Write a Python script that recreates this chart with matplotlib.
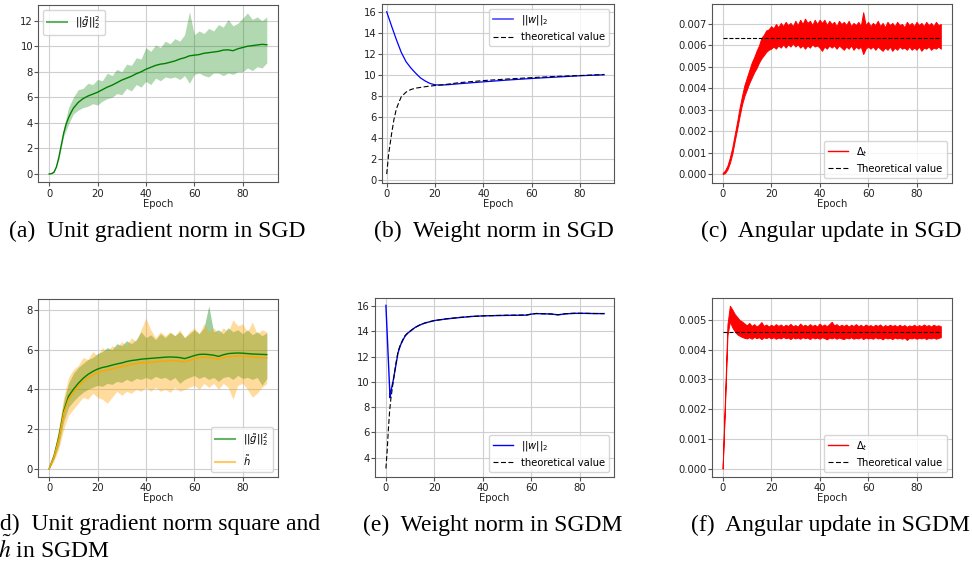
import matplotlib
matplotlib.use('Agg')
import matplotlib.pyplot as plt
from matplotlib.lines import Line2D

W, H = 972, 563

# ---------------- data ----------------
ep2 = list(range(0, 92, 2))          # epochs 0..90 step 2
ep1 = list(range(0, 91))             # epochs 0..90 step 1
ep_fine = [0, 1, 2, 3, 4, 5, 6, 7, 8, 9, 10] + list(range(12, 92, 2))

# (a) unit gradient norm in SGD
a_mean = [0.0, 0.03, 0.15, 0.55, 1.3, 2.25, 3.2, 3.9, 4.4, 4.8, 5.15,
          5.6, 5.9, 6.1, 6.25, 6.4, 6.6, 6.8, 6.95, 7.15, 7.35,
          7.5, 7.65, 7.85, 8.0, 8.2, 8.35, 8.5, 8.6, 8.65, 8.75, 8.85, 9.0, 9.1, 9.25, 9.3, 9.35,
          9.45, 9.5, 9.55, 9.6, 9.7, 9.72, 9.65, 9.8, 9.9, 10.0, 10.05, 10.1, 10.15, 10.12]
a_hi = [0.02, 0.2, 1.45, 3.6, 5.2, 6.0, 6.6, 6.7, 7.1, 7.0, 7.4, 7.3, 7.9, 7.7, 8.2, 8.0,
        8.6, 8.5, 9.1, 9.0, 9.9, 9.6, 10.1, 9.9, 10.4, 10.2, 10.6, 10.4, 10.9, 12.7, 10.9, 11.2,
        11.0, 11.4, 11.2, 11.7, 11.5, 12.1, 11.6, 11.8, 12.2, 12.6, 12.1, 12.3, 12.0, 12.3]
a_lo = [0.0, 0.1, 1.15, 2.95, 3.9, 4.7, 5.0, 5.2, 5.3, 5.5, 5.4, 5.7, 5.9, 6.0, 6.3, 6.2,
        6.7, 6.5, 7.0, 6.8, 7.25, 7.0, 7.5, 7.3, 7.6, 7.5, 7.6, 7.4, 7.7, 7.1, 7.8, 7.9,
        7.7, 7.6, 7.9, 7.9, 7.7, 7.9, 7.8, 8.0, 8.0, 8.3, 8.1, 8.4, 8.3, 8.7]

# (b) weight norm in SGD
b_ep = [0, 2, 4, 6, 8, 10, 12, 14, 16, 18, 20, 22, 25, 30, 40, 50, 60, 70, 80, 90]
b_w = [16.05, 14.7, 13.4, 12.2, 11.3, 10.7, 10.2, 9.75, 9.45, 9.22, 9.1, 9.07, 9.1, 9.2, 9.38,
       9.55, 9.7, 9.83, 9.96, 10.05]
b_th_ep = [0, 0.8, 2, 3, 4, 5, 6, 8, 10, 12, 16, 20, 25, 30, 40, 50, 60, 70, 80, 90]
b_th = [0.6, 2.5, 4.4, 5.8, 6.8, 7.4, 7.95, 8.4, 8.65, 8.78, 8.92, 9.03, 9.15, 9.3, 9.5, 9.65,
        9.78, 9.9, 9.98, 10.08]

# (c) angular update in SGD  (x 1e-3), one value per epoch
c_hi = [0.05, 0.17, 0.4, 0.78, 1.25, 1.85, 2.45, 3.1, 3.65, 4.15, 4.5, 4.85, 5.2, 5.45, 5.75, 6.0,
        6.35, 6.5, 6.7, 6.75, 6.9,
        6.8, 7.0, 6.85, 7.05, 6.9, 7.1, 6.95, 7.05, 6.9, 7.15, 6.95, 7.2, 7.0, 7.25, 7.05, 7.15,
        6.95, 7.2, 7.0, 7.2,
        7.05, 7.2, 6.95, 7.15, 7.0, 7.1, 6.9, 7.15, 7.0, 7.1, 6.95, 7.15, 6.9, 7.05, 6.95, 7.1,
        6.9, 7.55, 6.95, 7.1,
        6.9, 7.05, 6.95, 7.15, 6.9, 7.05, 6.85, 7.1, 6.95, 7.05, 6.9, 7.1, 6.95, 7.0, 6.85, 7.1,
        6.95, 7.05, 6.9, 7.1,
        6.95, 7.05, 6.9, 7.1, 6.95, 7.05, 6.9, 7.1, 6.95, 7.0]
c_lo = [0.0, 0.05, 0.22, 0.52, 0.95, 1.55, 2.1, 2.7, 3.25, 3.65, 3.95, 4.25, 4.5, 4.75, 4.95, 5.2,
        5.4, 5.55, 5.7, 5.8, 5.85,
        5.95, 5.85, 6.0, 5.9, 6.05, 5.9, 6.05, 5.95, 6.1, 5.95, 6.05, 5.9, 6.0, 5.85, 6.0, 5.9,
        6.05, 5.95, 6.0, 5.9,
        5.75, 5.95, 5.85, 6.0, 5.9, 6.0, 5.85, 6.0, 5.9, 5.8, 5.95, 5.85, 6.0, 5.8, 5.95, 5.85,
        5.95, 5.6, 5.85, 5.95,
        5.85, 5.95, 5.8, 5.95, 5.85, 5.75, 5.9, 5.8, 5.95, 5.75, 5.9, 5.8, 5.95, 5.85, 5.9, 5.8,
        5.95, 5.8, 5.9, 5.8,
        5.95, 5.75, 5.9, 5.85, 5.95, 5.8, 5.9, 5.85, 5.95, 5.85]
c_theory = 6.37  # x 1e-3

# (d) unit gradient norm square and h in SGDM
d_g_mean = [0.0, 0.65, 1.6, 2.9, 3.65, 4.0, 4.3, 4.55, 4.75, 4.9, 5.02, 5.1, 5.15, 5.22, 5.28, 5.33,
            5.4, 5.45, 5.48, 5.52, 5.54, 5.56, 5.58, 5.6, 5.62, 5.63, 5.62, 5.6, 5.55, 5.62, 5.7, 5.76,
            5.77, 5.75, 5.72, 5.66, 5.74, 5.8, 5.82, 5.83, 5.82, 5.8, 5.78, 5.77, 5.76, 5.75]
d_h_mean = [0.0, 0.6, 1.5, 2.8, 3.5, 3.85, 4.15, 4.38, 4.58, 4.72, 4.83, 4.92, 4.97, 5.03, 5.09, 5.14,
            5.2, 5.26, 5.3, 5.33, 5.35, 5.37, 5.39, 5.41, 5.43, 5.45, 5.44, 5.42, 5.38, 5.45, 5.53, 5.6,
            5.62, 5.6, 5.57, 5.52, 5.59, 5.64, 5.66, 5.68, 5.67, 5.65, 5.63, 5.61, 5.6, 5.58]
d_g_hi = [0.05, 0.8, 2.0, 3.4, 4.3, 4.8, 5.1, 5.3, 5.5, 5.6, 5.8, 5.9, 6.1, 6.0, 6.3, 6.2,
          6.45, 6.3, 6.5, 6.9, 6.6, 6.75, 6.5, 6.8, 6.6, 6.85, 6.7, 6.9, 6.6, 6.8, 7.0, 6.8,
          7.1, 8.2, 6.9, 7.0, 6.8, 7.1, 6.9, 7.0, 6.8, 7.0, 6.75, 6.9, 6.7, 6.85]
d_g_lo = [0.0, 0.5, 1.2, 2.4, 3.1, 3.4, 3.65, 3.85, 4.0, 4.1, 4.2, 4.15, 4.3, 4.25, 4.4, 4.35,
          4.5, 4.4, 4.55, 4.5, 4.6, 4.5, 4.65, 4.55, 4.6, 4.45, 4.6, 4.3, 4.5, 4.6, 4.7, 4.55,
          4.65, 4.5, 4.6, 4.4, 4.6, 4.65, 4.5, 4.7, 4.55, 4.6, 4.5, 4.6, 4.2, 4.55]
d_h_hi = [0.05, 0.85, 2.1, 3.6, 4.6, 5.0, 5.2, 5.6, 5.5, 5.9, 5.7, 6.1, 5.9, 6.2, 6.1, 6.4,
          6.2, 6.6, 6.4, 7.0, 7.6, 7.0, 6.6, 6.9, 6.7, 6.9, 6.7, 7.0, 6.6, 6.9, 7.1, 6.8,
          7.3, 6.9, 7.1, 6.8, 7.1, 6.9, 7.5, 7.2, 7.3, 6.9, 7.4, 6.8, 7.0, 6.9]
d_h_lo = [0.0, 0.4, 1.0, 2.0, 2.7, 3.0, 3.3, 3.6, 3.5, 3.8, 3.6, 3.5, 3.3, 3.6, 3.9, 3.7,
          3.9, 3.8, 4.0, 3.9, 4.1, 3.9, 4.1, 3.9, 4.0, 3.85, 4.1, 3.9, 4.0, 4.1, 4.2, 4.0,
          4.3, 4.1, 4.3, 4.0, 4.3, 4.1, 3.5, 4.2, 4.3, 4.0, 3.6, 3.8, 4.1, 4.3]

# (e) weight norm in SGDM
e_ep = [0, 1.7, 2, 3, 4, 5, 6, 7, 8, 9, 10, 12, 14, 16, 18, 20, 25, 30, 35, 40, 45, 50, 55, 58,
        60, 62, 65, 68, 71, 74, 78, 82, 86, 90]
e_w = [16.05, 8.75, 9.2, 10.1, 11.2, 12.3, 12.9, 13.3, 13.65, 13.85, 14.0, 14.3, 14.5, 14.65, 14.75,
       14.85, 14.98, 15.08, 15.17, 15.22, 15.24, 15.26, 15.27, 15.28, 15.36, 15.4, 15.38, 15.37, 15.3,
       15.38, 15.42, 15.42, 15.4, 15.4]
e_th_ep = [0, 0.5, 1, 1.5, 2, 3, 4, 5, 6, 7, 8, 9, 10, 12, 14, 16, 18, 20, 25, 30, 35, 40, 45, 50,
           55, 58, 60, 62, 65, 68, 71, 74, 78, 82, 86, 90]
e_th = [3.15, 4.5, 6.2, 7.6, 8.6, 10.0, 11.3, 12.4, 12.95, 13.35, 13.68, 13.87, 14.02, 14.3, 14.5,
        14.65, 14.76, 14.85, 14.99, 15.09, 15.17, 15.22, 15.25, 15.27, 15.28, 15.29, 15.36, 15.41,
        15.39, 15.37, 15.31, 15.39, 15.43, 15.42, 15.41, 15.4]

# (f) angular update in SGDM  (x 1e-3), one value per epoch
f_hi = [0.0, 2.4, 4.85, 5.48, 5.35, 5.2, 5.1, 5.0, 4.95, 4.88, 4.82,
        4.9, 4.8, 4.86, 4.78, 4.84, 4.93, 4.8, 4.85, 4.78, 4.84,
        4.79, 4.86, 4.8, 4.85, 4.78, 4.84, 4.8, 4.87, 4.79, 4.83,
        4.78, 4.88, 4.8, 4.84, 4.79, 4.86, 4.8, 4.84, 4.78, 4.88,
        4.8, 4.85, 4.79, 4.86, 4.94, 4.82, 4.86, 4.79, 4.84, 4.8,
        4.85, 4.78, 4.84, 4.8, 4.86, 4.79, 4.84, 4.78, 4.85, 4.8,
        4.83, 4.78, 4.84, 4.8, 4.85, 4.77, 4.83, 4.79, 4.84, 4.8,
        4.83, 4.78, 4.84, 4.79, 4.83, 4.77, 4.82, 4.79, 4.84, 4.78,
        4.83, 4.79, 4.85, 4.8, 4.83, 4.78, 4.84, 4.8, 4.82, 4.79]
f_lo = [0.0, 2.15, 4.5, 4.95, 4.75, 4.62, 4.52, 4.47, 4.43, 4.4, 4.38,
        4.42, 4.37, 4.43, 4.39, 4.42, 4.36, 4.42, 4.39, 4.43, 4.38,
        4.42, 4.37, 4.41, 4.38, 4.43, 4.39, 4.41, 4.36, 4.42, 4.38,
        4.41, 4.37, 4.42, 4.39, 4.41, 4.36, 4.42, 4.38, 4.41, 4.37,
        4.42, 4.39, 4.35, 4.41, 4.38, 4.42, 4.37, 4.41, 4.38, 4.36,
        4.41, 4.38, 4.42, 4.37, 4.4, 4.38, 4.42, 4.36, 4.41, 4.38,
        4.4, 4.37, 4.42, 4.38, 4.4, 4.35, 4.41, 4.38, 4.4, 4.36,
        4.41, 4.38, 4.4, 4.37, 4.41, 4.33, 4.4, 4.38, 4.41, 4.37,
        4.4, 4.38, 4.41, 4.36, 4.4, 4.38, 4.41, 4.37, 4.4, 4.42]
f_theory = 4.59  # x 1e-3

captions = ["(a)  Unit gradient norm in SGD", "(b)  Weight norm in SGD",
            "(c)  Angular update in SGD", "(d)  Unit gradient norm square and",
            " in SGDM", "(e)  Weight norm in SGDM", "(f)  Angular update in SGDM"]

# ---------------- figure ----------------
fig = plt.figure(figsize=(W / 100, H / 100), dpi=100)
TXT = 7.2
DASH = (4.5, 2.2)


def add_ax(l, t, r, b):
    return fig.add_axes([l / W, 1 - b / H, (r - l) / W, (b - t) / H])


def style(ax, xlim, ylim, yticks, yfmt=None):
    ax.set_xlim(*xlim)
    ax.set_ylim(*ylim)
    ax.set_xticks([0, 20, 40, 60, 80])
    ax.set_yticks(yticks)
    if yfmt:
        ax.set_yticklabels([yfmt % v for v in yticks])
    ax.grid(True, color='#cfcfcf', lw=0.8)
    ax.set_axisbelow(True)
    for s in ax.spines.values():
        s.set_color('#555555')
        s.set_linewidth(0.8)
    ax.tick_params(labelsize=TXT, length=3, width=0.8, color='#555555', labelcolor='#222222')
    ax.tick_params(axis='y', pad=0.8)
    ax.tick_params(axis='x', pad=1.5)
    ax.set_xlabel('Epoch', fontsize=TXT, labelpad=0.3, color='#222222')


def leg(ax, handles, labels, loc):
    return ax.legend(handles, labels, loc=loc, fontsize=TXT, framealpha=0.8,
                     edgecolor='#cccccc', fancybox=True)


# (a)
ax = add_ax(38.3, 5, 277.7, 182.3)
ax.fill_between(ep2, a_lo, a_hi, color='green', alpha=0.3, lw=0)
ax.plot(ep_fine, a_mean, color='green', lw=1.0)
style(ax, (-4.5, 94.5), (-0.65, 13.23), [0, 2, 4, 6, 8, 10, 12])
leg(ax, [Line2D([], [], color='green', alpha=0.6, lw=1.5)], [r'$||\tilde{g}||_2^2$'], 'upper left')

# (b)
ax = add_ax(381.7, 4.3, 614.3, 182.7)
ax.plot(b_ep, b_w, color='blue', lw=0.9)
ax.plot(b_th_ep, b_th, color='black', ls='--', lw=0.8, dashes=DASH)
style(ax, (-2.07, 94.2), (-0.22, 16.76), [0, 2, 4, 6, 8, 10, 12, 14, 16])
leg(ax, [Line2D([], [], color='blue', alpha=0.7, lw=1.2),
         Line2D([], [], color='black', ls='--', lw=0.8, dashes=DASH)],
    [r'$||w||_2$', 'theoretical value'], 'upper right')

# (c)
ax = add_ax(711.7, 4.3, 951.7, 182.7)
ax.fill_between(ep1, [v * 1e-3 for v in c_lo], [v * 1e-3 for v in c_hi],
                color='red', lw=0.7, edgecolor='red')
ax.hlines(c_theory * 1e-3, ep1[0], ep1[-1], color='black', ls='--', lw=0.8)
style(ax, (-4.5, 94.5), (-0.0004, 0.00792), [i * 0.001 for i in range(8)], '%.3f')
leg(ax, [Line2D([], [], color='red', lw=1.0),
         Line2D([], [], color='black', ls='--', lw=0.8, dashes=DASH)],
    [r'$\Delta_t$', 'Theoretical value'], 'lower right')

# (d)
ax = add_ax(38.3, 299, 277.7, 476.7)
ax.fill_between(ep2, d_g_lo, d_g_hi, color='green', alpha=0.38, lw=0)
ax.fill_between(ep2, d_h_lo, d_h_hi, color='orange', alpha=0.38, lw=0)
ax.plot(ep2, d_g_mean, color='green', lw=1.0)
ax.plot(ep2, d_h_mean, color='orange', lw=1.0)
style(ax, (-4.5, 94.5), (-0.40, 8.55), [0, 2, 4, 6, 8])
leg(ax, [Line2D([], [], color='green', alpha=0.6, lw=1.5),
         Line2D([], [], color='orange', alpha=0.6, lw=1.5)],
    [r'$||\tilde{g}||_2^2$', r'$\tilde{h}$'], 'lower right')

# (e)
ax = add_ax(375, 298.3, 614.3, 476.7)
ax.plot(e_ep, e_w, color='blue', lw=1.0)
ax.plot(e_th_ep, e_th, color='black', ls='--', lw=0.8, dashes=DASH)
style(ax, (-4.5, 94.2), (2.5, 16.61), [4, 6, 8, 10, 12, 14, 16])
leg(ax, [Line2D([], [], color='blue', lw=1.0),
         Line2D([], [], color='black', ls='--', lw=0.8, dashes=DASH)],
    [r'$||w||_2$', 'theoretical value'], 'lower right')

# (f)
ax = add_ax(711.7, 298.3, 951.7, 476.7)
ax.fill_between(ep1, [v * 1e-3 for v in f_lo], [v * 1e-3 for v in f_hi],
                color='red', lw=0.7, edgecolor='red')
ax.hlines(f_theory * 1e-3, ep1[0], ep1[-1], color='black', ls='--', lw=0.8)
style(ax, (-4.5, 94.5), (-0.00027, 0.00573), [i * 0.001 for i in range(6)], '%.3f')
leg(ax, [Line2D([], [], color='red', lw=1.0),
         Line2D([], [], color='black', ls='--', lw=0.8, dashes=DASH)],
    [r'$\Delta_t$', 'Theoretical value'], 'lower right')

# captions
CAP = dict(fontsize=17, family='Liberation Serif', color='black', va='baseline')
fig.text(157.5 / W, 1 - 237 / H, captions[0], ha='center', **CAP)
fig.text(494 / W, 1 - 237 / H, captions[1], ha='center', **CAP)
fig.text(831 / W, 1 - 237 / H, captions[2], ha='center', **CAP)
fig.text(-8 / W, 1 - 530 / H, captions[3], ha='left', **CAP)
fig.text(-2 / W, 1 - 558 / H, r'$\tilde{h}$' + captions[4], ha='left', math_fontfamily='stix', **CAP)
fig.text(493 / W, 1 - 530.7 / H, captions[5], ha='center', **CAP)
fig.text(830 / W, 1 - 530.7 / H, captions[6], ha='center', **CAP)

fig.savefig('out.png', dpi=100)
